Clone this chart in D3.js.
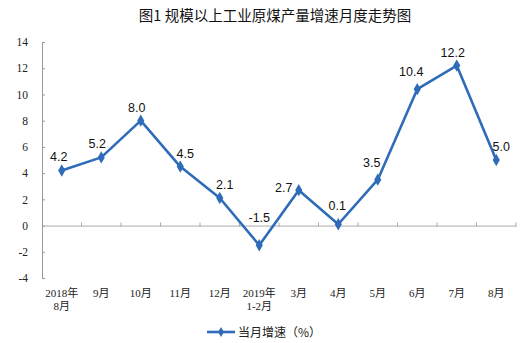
<!DOCTYPE html>
<html>
<head>
<meta charset="utf-8">
<script src="https://cdn.jsdelivr.net/npm/d3@7"></script>
<style>
  body { margin: 0; background: #fff; }
  svg { display: block; }
</style>
</head>
<body>
<svg id="chart" width="525" height="343"></svg>
<script>
// data
var months = ["2018年\n8月", "9月", "10月", "11月", "12月", "2019年\n1-2月", "3月", "4月", "5月", "6月", "7月", "8月"]
var growth = [4.2, 5.2, 8.0, 4.5, 2.1, -1.5, 2.7, 0.1, 3.5, 10.4, 12.2, 5.0]
var yTicks = [-4, -2, 0, 2, 4, 6, 8, 10, 12, 14]

var lineColor = "#2e6bb8"
var svg = d3.select("#chart")

var x = d3.scaleBand().domain(months).range([42, 516])
var y = d3.scaleLinear().domain([-4, 14]).range([278, 42])

function cx(i) { return x(months[i]) + x.bandwidth() / 2 }

// title
svg.append("text")
  .attr("x", 275).attr("y", 21)
  .attr("text-anchor", "middle")
  .style("font-family", "'Noto Sans CJK SC', sans-serif")
  .style("font-size", "14.5px")
  .style("font-weight", "400")
  .style("fill", "#111")
  .text("图1  规模以上工业原煤产量增速月度走势图")

// y axis (plain hyphen for negatives, like the original)
var yAxis = svg.append("g")
  .attr("transform", "translate(42,0)")
  .call(d3.axisRight(y).tickValues(yTicks).tickSize(3).tickFormat(function(d) { return String(d) }))
yAxis.select(".domain").attr("stroke", "#999")
yAxis.selectAll(".tick line").attr("stroke", "#999")
yAxis.selectAll(".tick text")
  .attr("x", -14)
  .attr("text-anchor", "end")
  .style("font-family", "'Liberation Serif', serif")
  .style("font-size", "11.5px")
  .style("fill", "#222")

// x axis on zero line
var xAxis = svg.append("g")
  .attr("transform", "translate(0," + y(0) + ")")
  .call(d3.axisBottom(x).tickSize(0).tickFormat(""))
xAxis.select(".domain").attr("stroke", "#aaa")

// band boundary ticks
svg.selectAll(".bt")
  .data(months)
  .enter()
  .append("line")
    .attr("x1", function(d) { return x(d) + x.bandwidth() })
    .attr("x2", function(d) { return x(d) + x.bandwidth() })
    .attr("y1", y(0) - 3)
    .attr("y2", y(0) + 1)
    .attr("stroke", "#aaa")

// category labels below plot
var catLabels = svg.selectAll(".cat")
  .data(months)
  .enter()
  .append("text")
    .attr("text-anchor", "middle")
    .style("font-family", "'Liberation Serif', 'Noto Sans CJK SC', serif")
    .style("font-size", "11px")
    .style("fill", "#222")
catLabels.each(function(d) {
  var parts = d.split("\n")
  var t = d3.select(this)
  for (var i = 0; i < parts.length; ++i) {
    t.append("tspan")
      .attr("x", x(d) + x.bandwidth() / 2)
      .attr("y", 297 + i * 13)
      .text(parts[i])
  }
})

// line
var line = d3.line()
  .x(function(d, i) { return cx(i) })
  .y(function(d) { return y(d) })

svg.append("path")
  .datum(growth)
  .attr("d", line)
  .attr("fill", "none")
  .attr("stroke", lineColor)
  .attr("stroke-width", 2.6)
  .attr("stroke-linejoin", "round")

var diamond = d3.symbol().type(d3.symbolDiamond).size(44)

svg.selectAll(".pt")
  .data(growth)
  .enter()
  .append("path")
    .attr("d", diamond)
    .attr("fill", lineColor)
    .attr("transform", function(d, i) { return "translate(" + cx(i) + "," + y(d) + ")" })

// place each label clear of the line around its point
function labelPos(d, i) {
  var prev = i > 0 ? growth[i - 1] : null
  var next = i < growth.length - 1 ? growth[i + 1] : null
  if (d < 0) return [0, y(0) - 4]
  if (prev === null) return [-3, y(d) - 9]
  if (prev < d && next !== null && next < d && d - prev > 3) return [-15, y(d) + 2]  // sharp peak
  if (prev > d && next !== null && next > d) return [-1, y(d) - 14]   // valley
  if (prev < d && d - prev > 3 && d - prev < 7) return [-6, y(d) - 13]  // steep rise
  if (prev < d) return [-4, y(d) - 9]
  return [5, y(d) - 9]
}

svg.selectAll(".val")
  .data(growth)
  .enter()
  .append("text")
    .attr("x", function(d, i) { return cx(i) + labelPos(d, i)[0] })
    .attr("y", function(d, i) { return labelPos(d, i)[1] })
    .attr("text-anchor", "middle")
    .style("font-family", "'Liberation Sans', Arial, sans-serif")
    .style("font-size", "12.5px")
    .style("fill", "#111")
    .text(function(d) { return d.toFixed(1) })

// legend
var lg = svg.append("g").attr("transform", "translate(207,332)")
lg.append("line")
  .attr("x1", 0).attr("x2", 28)
  .attr("stroke", lineColor).attr("stroke-width", 2.6)
lg.append("path")
  .attr("d", d3.symbol().type(d3.symbolDiamond).size(30))
  .attr("transform", "translate(14,0)")
  .attr("fill", lineColor)
lg.append("text")
  .attr("x", 31).attr("y", 4.5)
  .style("font-family", "'Noto Sans CJK SC', sans-serif")
  .style("font-size", "12px")
  .style("fill", "#222")
  .text("当月增速（%）")
</script>
</body>
</html>
